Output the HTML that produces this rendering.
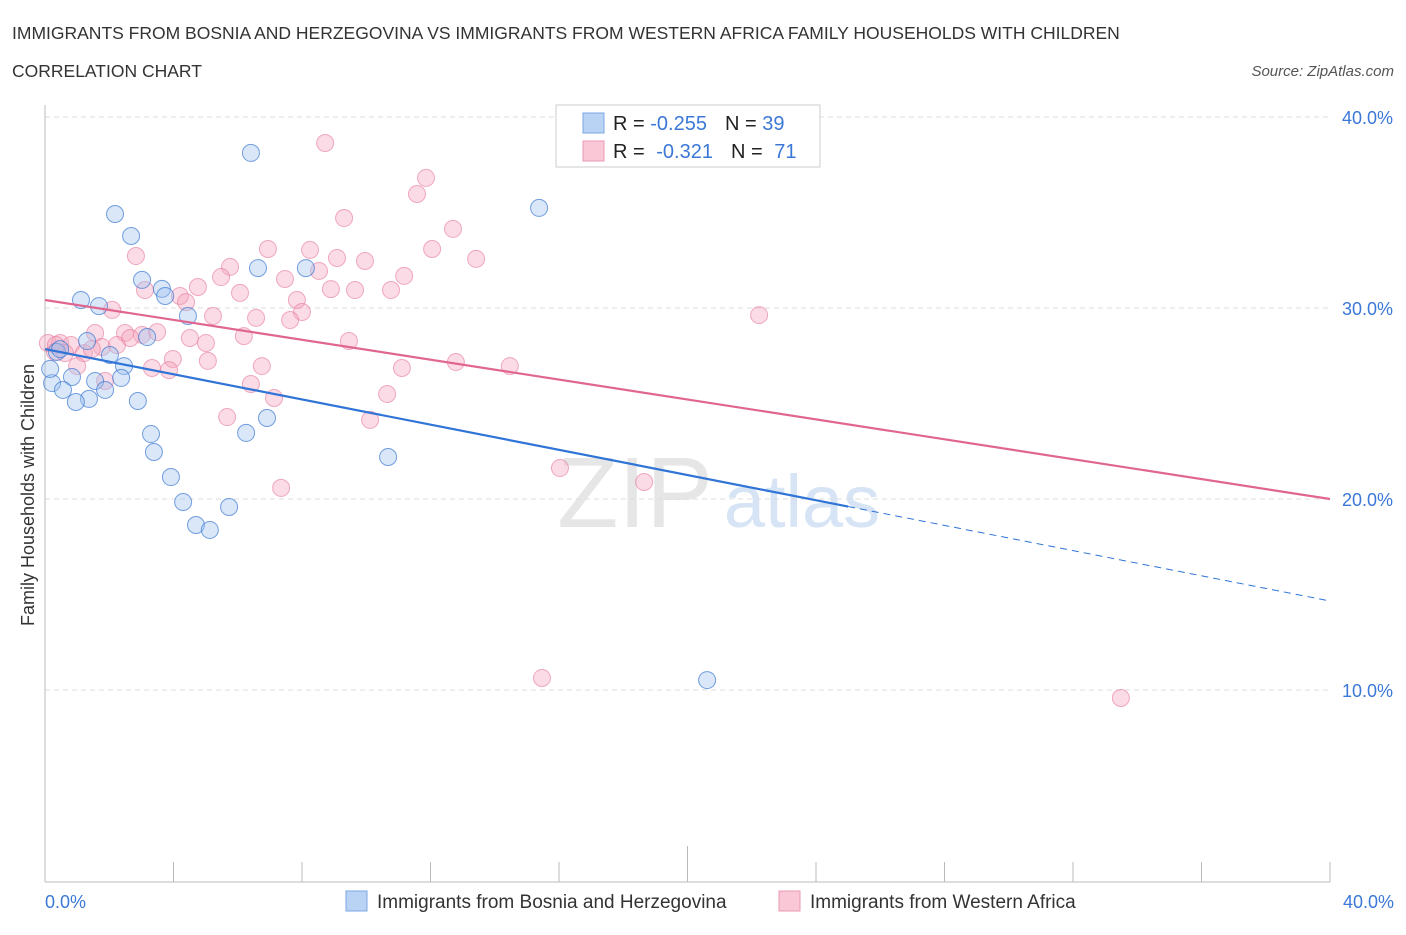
<!DOCTYPE html>
<html><head><meta charset="utf-8"><style>
body{margin:0;background:#fff;font-family:"Liberation Sans",sans-serif;}
svg text{font-family:"Liberation Sans",sans-serif;}
</style></head><body>
<svg id="chart" width="1406" height="930" xmlns="http://www.w3.org/2000/svg">
<text x="12" y="39" font-size="17.5" fill="#333">IMMIGRANTS FROM BOSNIA AND HERZEGOVINA VS IMMIGRANTS FROM WESTERN AFRICA FAMILY HOUSEHOLDS WITH CHILDREN</text>
<text x="12" y="77" font-size="17.5" fill="#333">CORRELATION CHART</text>
<text x="1394" y="76" font-size="15" fill="#555" font-style="italic" text-anchor="end">Source: ZipAtlas.com</text>
<g>
<text x="635" y="527" font-size="100" fill="#e6e6e6" font-family="Liberation Serif" text-anchor="middle">ZIP</text>
<text x="802" y="527" font-size="74" fill="#d6e4f5" text-anchor="middle">atlas</text>
</g>
<g id="grid"></g>
<g id="axes"></g>
<g id="pts"></g>
<g id="lines"></g>
<g>
<rect x="556" y="105" width="264" height="62" fill="#fff" stroke="#ccc"/>
<rect x="583" y="113" width="21" height="20" fill="#b9d3f5" stroke="#7aa7e4"/>
<rect x="583" y="141" width="21" height="20" fill="#f9c7d6" stroke="#ec9ab4"/>
<text x="613" y="130" font-size="20" fill="#222">R = <tspan fill="#3b78d8">-0.255</tspan><tspan dx="18">N = </tspan><tspan fill="#3b78d8">39</tspan></text>
<text x="613" y="158" font-size="20" fill="#222">R = <tspan dx="6" fill="#3b78d8">-0.321</tspan><tspan dx="18">N = </tspan><tspan dx="6" fill="#3b78d8">71</tspan></text>
</g>
<text transform="translate(34,495) rotate(-90)" font-size="18" fill="#333" text-anchor="middle">Family Households with Children</text>
<text x="45" y="908" font-size="18" fill="#3b78d8">0.0%</text>
<text x="1394" y="908" font-size="18" fill="#3b78d8" text-anchor="end">40.0%</text>
<g>
<rect x="346" y="891" width="21" height="20" fill="#b9d3f5" stroke="#7aa7e4"/>
<text x="377" y="908" font-size="19" fill="#333">Immigrants from Bosnia and Herzegovina</text>
<rect x="779" y="891" width="21" height="20" fill="#f9c7d6" stroke="#ec9ab4"/>
<text x="810" y="908" font-size="19" fill="#333">Immigrants from Western Africa</text>
</g>
</svg>
<script>
const blueX=[6.41,2.18,2.68,15.38,3.02,3.64,3.74,6.63,8.12,1.12,1.68,4.45,3.18,1.31,0.37,2.02,2.46,0.84,2.37,1.56,0.22,0.56,1.87,1.37,0.96,2.89,3.3,3.39,6.26,6.91,3.92,4.3,4.7,5.13,5.73,10.68,20.61,0.16,0.47];
const blueY=[38.12,34.92,33.77,35.24,31.47,31.0,30.63,32.09,32.09,30.42,30.1,29.58,28.48,28.27,27.7,27.54,26.96,26.39,26.34,26.18,26.07,25.71,25.71,25.24,25.08,25.13,23.4,22.46,23.46,24.24,21.15,19.84,18.64,18.38,19.58,22.2,10.52,26.81,27.85];
const pinkX=[8.72,11.86,11.58,9.31,12.7,6.94,8.25,12.05,2.83,9.09,9.96,13.42,5.76,11.18,7.47,5.48,3.11,4.76,8.9,9.65,10.77,6.07,4.2,7.84,4.39,8.0,2.09,5.23,6.57,7.63,8.53,22.23,1.56,2.49,3.49,3.02,4.51,6.19,9.46,0.09,0.47,0.81,1.77,2.24,5.01,0.31,1.21,2.65,3.98,5.07,12.79,14.47,3.33,3.86,6.75,11.11,1.0,1.87,6.41,7.13,10.65,5.67,10.12,16.03,18.65,7.35,15.47,33.49,0.62,1.46,0.34];
const pinkY=[38.64,36.81,35.97,34.71,34.14,33.09,33.04,33.09,32.72,32.62,32.46,32.57,32.15,31.68,31.52,31.62,30.94,31.1,30.99,30.94,30.94,30.79,30.63,30.42,30.31,29.79,29.9,29.58,29.48,29.37,31.94,29.63,28.69,28.69,28.74,28.59,28.43,28.53,28.27,28.17,28.17,28.06,27.96,28.06,28.17,27.7,27.64,28.43,27.33,27.23,27.17,26.96,26.86,26.75,26.96,26.86,26.96,26.18,26.02,25.29,25.5,24.29,24.14,21.62,20.89,20.58,10.63,9.58,27.64,27.85,28.06];
const blueTrend=[27.85,14.66];const blueSolidEnd=25.0;
const pinkTrend=[30.42,20.0];
const yTicks=[10,20,30,40];
const yTickLabels=["10.0%","20.0%","30.0%","40.0%"];
const NS="http://www.w3.org/2000/svg";
const sx=v=>45+v*32.125, sy=v=>881-v*19.1;
function mk(tag,attrs,parent){const e=document.createElementNS(NS,tag);for(const k in attrs)e.setAttribute(k,attrs[k]);parent.appendChild(e);return e;}
const grid=document.getElementById('grid'),axes=document.getElementById('axes'),pts=document.getElementById('pts'),lines=document.getElementById('lines');
yTicks.forEach((t,i)=>{
 const l=mk('line',{x1:45,x2:1330,y1:sy(t),y2:sy(t),stroke:'#ddd','stroke-dasharray':'5,4'},grid);
 
 
 const tx=mk('text',{x:1393,y:sy(t)+7,'font-size':18,fill:'#3b78d8','text-anchor':'end'},grid);
 tx.textContent=yTickLabels[i];
 
 
});
let a=mk('line',{x1:45,x2:45,y1:105,y2:882,stroke:'#bbb'},axes);


a=mk('line',{x1:45,x2:1330,y1:882,y2:882,stroke:'#bbb'},axes);


for(let k=0;k<=10;k++){const x=45+k*128.5;const t=mk('line',{x1:x,x2:x,y1:k==5?846:862,y2:882,stroke:'#bbb'},axes);
 
 }
pinkX.forEach((v,i)=>{const c=mk('circle',{cx:sx(v),cy:sy(pinkY[i]),r:8.5,fill:'rgba(245,165,190,0.4)',stroke:'rgba(230,120,155,0.6)','stroke-width':1},pts);
 
 });
blueX.forEach((v,i)=>{const c=mk('circle',{cx:sx(v),cy:sy(blueY[i]),r:8.5,fill:'rgba(160,195,240,0.4)',stroke:'rgba(60,120,210,0.7)','stroke-width':1},pts);
 
 });
const by=x=>blueTrend[0]+(blueTrend[1]-blueTrend[0])*x/40;
let l=mk('line',{x1:sx(0),y1:sy(blueTrend[0]),x2:sx(blueSolidEnd),y2:sy(by(blueSolidEnd)),stroke:'#2f74d6','stroke-width':2.2},lines);


l=mk('line',{x1:sx(blueSolidEnd),y1:sy(by(blueSolidEnd)),x2:sx(40),y2:sy(blueTrend[1]),stroke:'#2f74d6','stroke-width':1,'stroke-dasharray':'7,5'},lines);


l=mk('line',{x1:sx(0),y1:sy(pinkTrend[0]),x2:sx(40),y2:sy(pinkTrend[1]),stroke:'#e06690','stroke-width':2.2},lines);


</script>
</body></html>
